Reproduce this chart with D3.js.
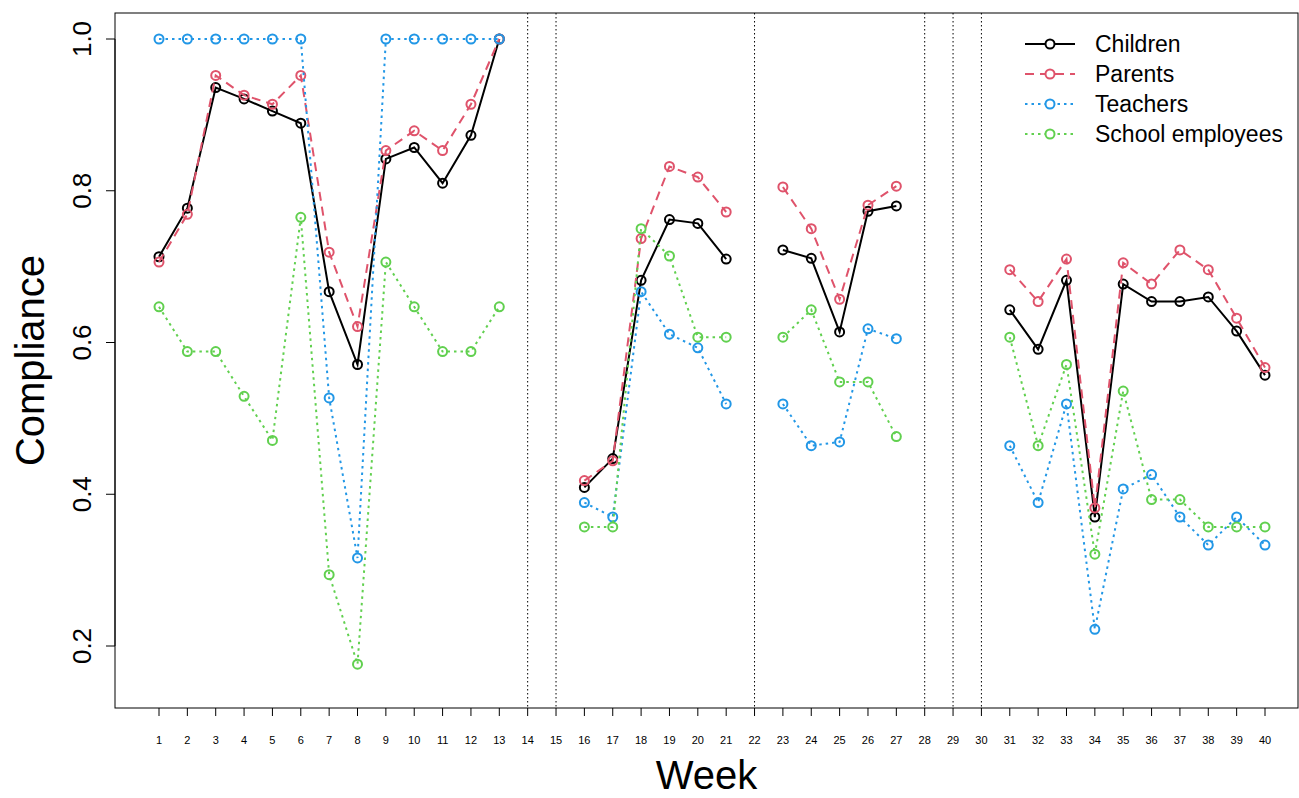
<!DOCTYPE html>
<html lang="en">
<head>
  <meta charset="UTF-8">
  <title>Compliance</title>
  <script src="https://cdn.jsdelivr.net/npm/d3@7"></script>
  <style>
    body { margin: 0; background: #fff; }
    text { font-family: Arial, "Liberation Sans", sans-serif; }
  </style>
</head>
<body>
  <script>
    const weeks = d3.range(1, 41);
    const gapWeeks = [14, 15, 22, 28, 29, 30];
    const yTicks = [0.2, 0.4, 0.6, 0.8, 1.0];
    // null = no data that week
    const children = [0.713, 0.777, 0.936, 0.921, 0.905, 0.889, 0.667, 0.571, 0.842, 0.857, 0.810, 0.873, 1.0, null, null,
      0.409, 0.447, 0.682, 0.762, 0.757, 0.710, null, 0.722, 0.711, 0.614, 0.773, 0.780, null, null, null,
      0.643, 0.591, 0.682, 0.370, 0.677, 0.654, 0.654, 0.660, 0.615, 0.557];
    const parents = [0.706, 0.769, 0.952, 0.926, 0.914, 0.952, 0.719, 0.621, 0.853, 0.879, 0.853, 0.914, 1.0, null, null,
      0.418, 0.444, 0.737, 0.832, 0.818, 0.772, null, 0.805, 0.750, 0.657, 0.781, 0.806, null, null, null,
      0.696, 0.654, 0.710, 0.382, 0.705, 0.677, 0.722, 0.696, 0.632, 0.567];
    const teachers = [1, 1, 1, 1, 1, 1, 0.527, 0.316, 1, 1, 1, 1, 1, null, null,
      0.389, 0.370, 0.667, 0.611, 0.593, 0.519, null, 0.519, 0.464, 0.469, 0.618, 0.605, null, null, null,
      0.464, 0.389, 0.519, 0.222, 0.407, 0.426, 0.370, 0.333, 0.370, 0.333];
    const employees = [0.647, 0.588, 0.588, 0.529, 0.471, 0.765, 0.294, 0.176, 0.706, 0.647, 0.588, 0.588, 0.647, null, null,
      0.357, 0.357, 0.750, 0.714, 0.607, 0.607, null, 0.607, 0.643, 0.548, 0.548, 0.476, null, null, null,
      0.607, 0.464, 0.571, 0.321, 0.536, 0.393, 0.393, 0.357, 0.357, 0.357];

    const series = [
      { name: 'Children', values: children, color: '#000000', dash: null },
      { name: 'Parents', values: parents, color: '#DF536B', dash: '9,6' },
      { name: 'Teachers', values: teachers, color: '#2297E6', dash: '2.5,4' },
      { name: 'School employees', values: employees, color: '#61D04F', dash: '2.5,4' }
    ];

    const width = 1299, height = 798;
    const box = { left: 115, right: 1298, top: 13, bottom: 708 };

    const svg = d3.select('body').append('svg')
      .attr('width', width).attr('height', height);

    const x = d3.scaleLinear().domain([1, 40]).range([159, 1265]);
    const y = d3.scaleLinear().domain([0.2, 1.0]).range([646, 39]);

    // box
    svg.append('rect')
      .attr('x', box.left).attr('y', box.top)
      .attr('width', box.right - box.left).attr('height', box.bottom - box.top)
      .attr('fill', 'none').attr('stroke', '#000').attr('stroke-width', 1);

    // y axis
    const yAxis = svg.append('g');
    yAxis.append('line').attr('x1', box.left).attr('x2', box.left)
      .attr('y1', y(0.2)).attr('y2', y(1.0)).attr('stroke', '#000');
    yAxis.selectAll('.yt').data(yTicks).enter().append('line')
      .attr('x1', box.left - 9).attr('x2', box.left)
      .attr('y1', d => y(d)).attr('y2', d => y(d)).attr('stroke', '#000');
    yAxis.selectAll('.yl').data(yTicks).enter().append('text')
      .attr('transform', d => `translate(${box.left - 24},${y(d)}) rotate(-90)`)
      .attr('text-anchor', 'middle').attr('font-size', 26)
      .text(d => d.toFixed(1));

    // x axis
    const xAxis = svg.append('g');
    xAxis.selectAll('.xt').data(weeks).enter().append('line')
      .attr('x1', d => x(d)).attr('x2', d => x(d))
      .attr('y1', box.bottom).attr('y2', box.bottom + 8).attr('stroke', '#000');
    xAxis.selectAll('.xl').data(weeks).enter().append('text')
      .attr('x', d => x(d)).attr('y', 744)
      .attr('text-anchor', 'middle').attr('font-size', 11)
      .text(d => d);

    // gap lines
    svg.selectAll('.gap').data(gapWeeks).enter().append('line')
      .attr('x1', d => x(d)).attr('x2', d => x(d))
      .attr('y1', box.top).attr('y2', box.bottom)
      .attr('stroke', '#000').attr('stroke-width', 1).attr('stroke-dasharray', '1.5,2.5');

    // titles
    svg.append('text').attr('x', (box.left + box.right) / 2).attr('y', 789)
      .attr('text-anchor', 'middle').attr('font-size', 40).text('Week');
    svg.append('text').attr('transform', `translate(44,${(box.top + box.bottom) / 2}) rotate(-90)`)
      .attr('text-anchor', 'middle').attr('font-size', 40).text('Compliance');

    const line = d3.line()
      .defined(d => d.v !== null)
      .x(d => x(d.w)).y(d => y(d.v));

    series.forEach(s => {
      const pts = weeks.map((w, i) => ({ w: w, v: s.values[i] }));
      const g = svg.append('g');
      g.append('path').datum(pts).attr('d', line)
        .attr('fill', 'none').attr('stroke', s.color).attr('stroke-width', 2)
        .attr('stroke-dasharray', s.dash);
      g.selectAll('circle').data(pts.filter(d => d.v !== null)).enter().append('circle')
        .attr('cx', d => x(d.w)).attr('cy', d => y(d.v)).attr('r', 4.5)
        .attr('fill', 'none').attr('stroke', s.color).attr('stroke-width', 2);
    });

    // legend
    const leg = svg.append('g');
    series.forEach((s, i) => {
      const ly = 44 + i * 30;
      leg.append('line').attr('x1', 1025).attr('x2', 1075).attr('y1', ly).attr('y2', ly)
        .attr('stroke', s.color).attr('stroke-width', 2).attr('stroke-dasharray', s.dash);
      leg.append('circle').attr('cx', 1050).attr('cy', ly).attr('r', 4.5)
        .attr('fill', '#fff').attr('stroke', s.color).attr('stroke-width', 2);
      leg.append('text').attr('x', 1095).attr('y', ly + 8).attr('font-size', 23).text(s.name);
    });
  </script>
</body>
</html>
